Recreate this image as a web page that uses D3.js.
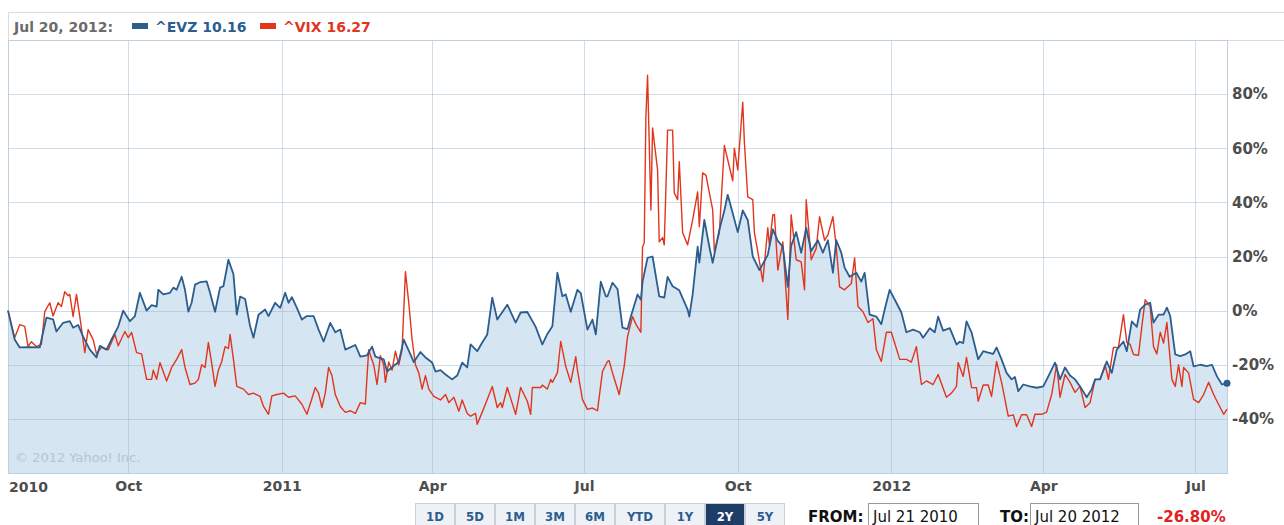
<!DOCTYPE html>
<html>
<head>
<meta charset="utf-8">
<script src="https://cdn.jsdelivr.net/npm/d3@7"></script>
<style>
  body { margin: 0; background: #fff; }
  text { font-family: "DejaVu Sans", sans-serif; }
</style>
</head>
<body>
<div id="chart"></div>
<script>
// data: days since Jul 21 2010, % change vs. first value
var startDate = new Date(2010, 6, 21);
var endDate = new Date(2012, 6, 20);

var evzDays = [0,4,7,13,19,23,27,29,33,37,39,42,45,49,53,55,59,62,66,69,73,76,79,83,86,89,90,93,97,99,101,104,106,108,110,112,115,119,121,124,127,129,132,135,137,139,142,145,147,150,154,156,160,163,166,168,170,173,176,179,183,186,189,193,196,199,202,208,211,215,218,220,225,227,231,234,237,241,243,247,250,254,256,259,262,266,269,272,275,277,281,284,287,290,293,299,304,307,311,316,320,323,326,329,332,334,337,341,343,347,350,352,355,358,359,362,365,368,371,373,377,379,380,383,386,390,393,395,398,402,407,408,410,413,414,417,420,422,426,429,431,434,437,440,443,446,450,455,458,461,464,467,469,472,475,478,481,485,488,491,494,496,499,501,504,508,511,513,516,520,523,525,528,532,535,538,542,546,548,552,555,557,560,564,568,570,572,574,577,581,584,587,590,592,595,598,601,603,605,608,612,616,620,623,627,630,633,636,639,642,646,649,651,654,658,661,664,668,670,673,676,678,681,684,686,689,692,694,696,699,702,705,708,710,714,718,721,724,727,730];
var evzPct = [0,-10.7,-13.6,-13.5,-13.6,-2.6,-3.2,-7.7,-4.5,-3.9,-6.3,-5.3,-9.6,-14.4,-17.3,-13,-14.4,-10.6,-5.9,0,-3.9,-2,6.6,0,2,1.5,7.7,6,6.6,8.5,7.7,12.5,7.7,-0.4,3,9.6,10.5,10.8,6.6,-0.4,8.5,9,18.8,13.5,-1.5,5.2,4.3,-5.8,-10,-1.5,0.4,-2,2.9,1,6.6,2.9,5,1,-3.3,-2,-2,-7,-11.4,-4.5,-8,-7,-14.4,-12.7,-17,-16.5,-13.3,-17,-18,-22.5,-20.4,-19,-10.7,-16.2,-19,-15.3,-17.3,-19.2,-22.5,-22,-23.6,-25.4,-24,-19.2,-21,-12.5,-15,-11.8,-8.8,4.8,-3.3,2.2,-4.4,-0.7,-0.5,-6,-12.5,-8.6,-5.8,14,5.3,6,-0.4,7.7,6.5,-7,-3.3,-8.8,10.7,5.3,5.3,10.3,8,-6.3,-6.8,-2.2,6,4,10.7,19.5,20,5.3,4.8,12.5,9,7.5,0.4,-2.2,6,23.6,17.7,33.5,23.6,17.7,29.9,37,42.8,36,29,37,33.5,20,15,20.6,30,25.8,23.6,8.8,24,29,21.4,30.6,22,26,21.4,26,14,26,21.4,15.9,12.5,14,10.7,14,-1.5,-2.2,-5,0.4,7.7,2.9,-0.7,-8,-7,-8,-10,-6.5,-8,-2.2,-7.4,-6.5,-12.5,-11.5,-12,-4,-8,-18,-15,-15.5,-16,-13.6,-18,-23,-25.4,-24.5,-29.8,-27.3,-28,-28.5,-28,-24.3,-19.2,-25.4,-21,-24,-25.4,-28,-32,-29,-25.4,-25.4,-18.8,-23,-14.4,-11.4,-15,-4,-6,0.4,2.2,2.9,-4.4,-1.5,-1.5,1.1,-2,-16.2,-16.8,-16.2,-15,-20.6,-20,-20.5,-20,-24.3,-27.3,-26.8];

var vixDays = [0,4,7,10,12,14,17,20,22,25,27,30,32,34,36,37,39,41,43,46,48,51,53,56,60,64,66,70,72,74,77,80,83,86,87,89,91,95,98,101,104,106,109,112,114,116,118,120,122,124,126,128,130,132,133,135,137,141,144,147,151,153,156,158,161,165,168,172,176,179,182,184,186,188,190,192,194,196,199,202,205,208,211,214,216,217,219,221,223,225,226,228,230,232,234,236,238,240,242,244,246,248,250,252,255,259,262,264,267,270,272,275,277,280,281,284,287,290,293,295,296,299,304,307,311,313,314,319,320,323,325,326,329,331,334,337,340,341,344,347,350,353,356,359,360,362,363,366,369,371,374,376,379,380,381,382,383,385,386,389,390,392,393,395,398,399,401,402,404,407,410,413,414,416,418,422,423,426,429,434,435,437,440,441,443,446,447,449,452,455,456,458,459,461,464,467,469,472,475,477,478,481,484,486,489,491,494,496,498,501,505,507,509,512,515,518,520,523,526,529,534,538,541,544,547,550,554,557,562,565,568,569,572,574,577,580,581,584,587,589,592,595,599,602,604,607,610,613,615,619,622,625,628,630,633,636,639,642,645,648,651,654,657,659,662,665,668,670,672,674,677,679,681,684,686,688,690,692,694,697,699,701,703,704,707,710,713,716,719,722,724,728,730];
var vixPct = [0,-10,-5.2,-5.8,-13.3,-11.5,-13.3,-12.5,-0.4,2.9,-2,2.9,1.5,7,5.5,6,-2.2,6,-2.2,-15.5,-7,-10.7,-16,-13.6,-14.5,-8.8,-13,-7.7,-10,-8,-15.5,-16,-25.4,-25.4,-22,-25.4,-19.2,-26,-21,-18,-14.4,-21,-27.3,-26.8,-25.4,-20,-21,-11.8,-19.5,-28,-22,-18.8,-13.3,-14,-8.8,-18,-28,-29,-31,-30.5,-31.7,-35.4,-38.3,-31.5,-31,-30.5,-32,-31.5,-34.6,-38.3,-32.5,-28.4,-30.5,-35.8,-30.5,-21,-24,-31,-35.4,-37.6,-37,-38,-34,-34.5,-14.4,-16.5,-20,-27.3,-16.7,-20,-26.5,-19,-22,-15,-20,-14.4,14.4,2.9,-10.7,-20,-23,-29,-24,-29,-31.7,-33,-31,-34,-32,-37.2,-33,-38,-39,-38,-42,-37.5,-32.8,-28,-35.8,-34,-35.8,-28.4,-38.3,-28.4,-33.5,-38.3,-28.4,-28.4,-27.5,-29,-25.4,-26.5,-23,-11.4,-20.6,-26.5,-17,-22,-32.8,-36.5,-36,-37,-22.5,-18.8,-18.5,-23,-25,-31,-20.6,-9.6,-2.2,-5,-8,23.6,25,71.5,87,37.2,67.5,52,25.4,27,24.3,66.7,66.7,43.5,41,55,28.8,24.3,33.5,43.9,31,50.9,50,37.2,21.8,28.8,61,48,60,52,77,62,42,41,28.8,21.8,10.7,30.6,24,35.4,35.5,15,25.4,-3.3,35.4,18.8,18,7.7,41,18.8,23,34.7,26,28,34.7,23.6,8.8,7.7,10,19.5,1.5,-0.4,-4.4,-3,-14.4,-18.8,-8,-8,-18,-18,-19,-13.3,-27.3,-26,-27.3,-23.6,-32,-30.5,-28,-19.2,-24.3,-17.3,-28.4,-28.5,-33.5,-27.5,-27.5,-31.7,-18.8,-26.5,-39,-38.5,-42.8,-38.5,-38.5,-42.8,-38.3,-38.3,-37.5,-31,-20,-32,-23.6,-26.5,-30.2,-28,-35.8,-34,-25.4,-25.4,-20,-25.4,-13.6,-13.5,-1.5,-11.8,-12.5,-16.2,-16.5,-5.8,4,1.5,-13.3,-16,-8,-12,-4.4,-25.4,-28,-20,-28,-21,-23,-32.8,-34,-31,-26.5,-31,-33.5,-38.3,-36.4];

var yTicks = [-40, -20, 0, 20, 40, 60, 80];
var rangeButtons = ["1D", "5D", "1M", "3M", "6M", "YTD", "1Y", "2Y", "5Y"];
var activeRange = "2Y";
var headerDate = "Jul 20, 2012:";
var seriesNames = ["^EVZ", "^VIX"];
var seriesLast = ["10.16", "16.27"];
var fromText = "Jul 21 2010", toText = "Jul 20 2012", changeText = "-26.80%";

var W = 1284, H = 525;
var plotL = 8, plotR = 1227, plotT = 40, plotB = 473;
var blue = "#2c5d8f", red = "#e2351d", fill = "#d5e5f1";

var svg = d3.select("#chart").append("svg")
    .attr("width", W).attr("height", H);

var toPoints = function(days, vals) {
  return days.map(function(d, i) { return { date: d3.timeDay.offset(startDate, d), v: vals[i] }; });
};
var evz = toPoints(evzDays, evzPct);
var vix = toPoints(vixDays, vixPct);

var x = d3.scaleTime().domain([startDate, endDate]).range([plotL, plotR]);
var y = d3.scaleLinear().domain([-60, 100]).range([plotB, plotT]);

// header box
svg.append("rect")
    .attr("x", plotL + 0.5).attr("y", 12.5).attr("width", W).attr("height", plotT - 12)
    .attr("fill", "#fff").attr("stroke", "#dcdcdc");

var head = svg.append("g").attr("font-weight", "bold").attr("font-size", 14);
head.append("text").attr("x", 14).attr("y", 32).attr("fill", "#6b6b6b").text(headerDate);
[[132, 155, blue], [260, 283, red]].forEach(function(p, i) {
  head.append("rect").attr("x", p[0]).attr("y", 23).attr("width", 16).attr("height", 6).attr("fill", p[2]);
  head.append("text").attr("x", p[1]).attr("y", 32).attr("fill", p[2])
      .text(seriesNames[i] + " " + seriesLast[i]);
});

// area under EVZ
svg.append("path").datum(evz)
    .attr("fill", fill)
    .attr("d", d3.area().x(d => x(d.date)).y0(plotB).y1(d => y(d.v)));

// grid
var months = x.ticks(d3.timeMonth.every(3));
svg.append("g").selectAll("line").data(months).join("line")
    .attr("x1", d => Math.round(x(d)) + 0.5).attr("x2", d => Math.round(x(d)) + 0.5)
    .attr("y1", plotT).attr("y2", plotB)
    .attr("stroke", "rgb(150,180,205)").attr("stroke-opacity", 0.45);
svg.append("g").selectAll("line").data(yTicks).join("line")
    .attr("x1", plotL).attr("x2", plotR)
    .attr("y1", d => Math.round(y(d)) + 0.5).attr("y2", d => Math.round(y(d)) + 0.5)
    .attr("stroke", "rgb(150,180,205)").attr("stroke-opacity", 0.45);

// frame
svg.append("rect")
    .attr("x", plotL + 0.5).attr("y", plotT + 0.5).attr("width", plotR - plotL).attr("height", plotB - plotT)
    .attr("fill", "none").attr("stroke", "rgb(190,208,222)");

svg.append("text").attr("x", 15).attr("y", 462)
    .attr("font-size", 13).attr("fill", "#b4c6d4")
    .text("\u00a9 2012 Yahoo! Inc.");

// lines
var line = d3.line().x(d => x(d.date)).y(d => y(d.v));
svg.append("path").datum(vix)
    .attr("fill", "none").attr("stroke", red).attr("stroke-width", 1.4)
    .attr("stroke-linejoin", "round").attr("d", line);
svg.append("path").datum(evz)
    .attr("fill", "none").attr("stroke", blue).attr("stroke-width", 1.8)
    .attr("stroke-linejoin", "round").attr("d", line);
svg.append("circle")
    .attr("cx", x(evz[evz.length - 1].date)).attr("cy", y(evz[evz.length - 1].v))
    .attr("r", 3.5).attr("fill", blue);

// right axis
var yAxis = svg.append("g")
    .attr("transform", `translate(${plotR},0)`)
    .call(d3.axisRight(y).tickValues(yTicks).tickSize(0).tickPadding(5).tickFormat(d => d + "%"));
yAxis.select(".domain").remove();
yAxis.selectAll("text")
    .attr("fill", "#4d4d4d").attr("font-size", 15).attr("font-weight", "bold")
    .style("font-family", "'DejaVu Sans', sans-serif");

// bottom axis
var fmtMonth = d3.timeFormat("%b"), fmtYear = d3.timeFormat("%Y");
var xAxis = svg.append("g")
    .attr("transform", `translate(0,${plotB})`)
    .call(d3.axisBottom(x).tickValues(months).tickSize(0).tickPadding(8)
      .tickFormat(d => d.getMonth() === 0 ? fmtYear(d) : fmtMonth(d)));
xAxis.select(".domain").remove();
xAxis.selectAll("text")
    .attr("fill", "#4d4d4d").attr("font-size", 14).attr("font-weight", "bold")
    .style("font-family", "'DejaVu Sans', sans-serif");
svg.append("text").attr("x", 9).attr("y", 492)
    .attr("fill", "#4d4d4d").attr("font-size", 14).attr("font-weight", "bold")
    .text(fmtYear(startDate));

// range buttons
var bw = rangeButtons.map(b => b === "YTD" ? 50 : 40);
var bxs = d3.cumsum([415].concat(bw)).slice(0, -1);
var btn = svg.append("g").selectAll("g").data(rangeButtons).join("g")
    .attr("transform", (d, i) => `translate(${bxs[i]},503)`);
btn.append("rect")
    .attr("x", 0.5).attr("y", 0.5).attr("width", (d, i) => bw[i] - 1).attr("height", 30)
    .attr("fill", d => d === activeRange ? "#1d3c66" : "#eef2f6")
    .attr("stroke", "#c8d0da");
btn.append("text")
    .attr("x", (d, i) => bw[i] / 2).attr("y", 18)
    .attr("text-anchor", "middle").attr("font-size", 13).attr("font-weight", "bold")
    .attr("fill", d => d === activeRange ? "#fff" : "#2c5d8f")
    .style("font-family", "'DejaVu Sans Condensed', 'DejaVu Sans', sans-serif")
    .text(d => d);

// date range inputs
var ctrl = svg.append("g").style("font-family", "'Liberation Sans Narrow', 'DejaVu Sans Condensed', sans-serif");
ctrl.append("text").attr("x", 808).attr("y", 522).attr("font-size", 15).attr("font-weight", "bold").attr("fill", "#111").text("FROM:");
ctrl.append("rect").attr("x", 868.5).attr("y", 503.5).attr("width", 110).attr("height", 30).attr("fill", "#fff").attr("stroke", "#999");
ctrl.append("text").attr("x", 873).attr("y", 522).attr("font-size", 15).attr("fill", "#111").text(fromText);
ctrl.append("text").attr("x", 1000).attr("y", 522).attr("font-size", 15).attr("font-weight", "bold").attr("fill", "#111").text("TO:");
ctrl.append("rect").attr("x", 1030.5).attr("y", 503.5).attr("width", 108).attr("height", 30).attr("fill", "#fff").attr("stroke", "#999");
ctrl.append("text").attr("x", 1035).attr("y", 522).attr("font-size", 15).attr("fill", "#111").text(toText);
ctrl.append("text").attr("x", 1157).attr("y", 522).attr("font-size", 15).attr("font-weight", "bold").attr("fill", "#e3211b").text(changeText);
</script>
</body>
</html>
